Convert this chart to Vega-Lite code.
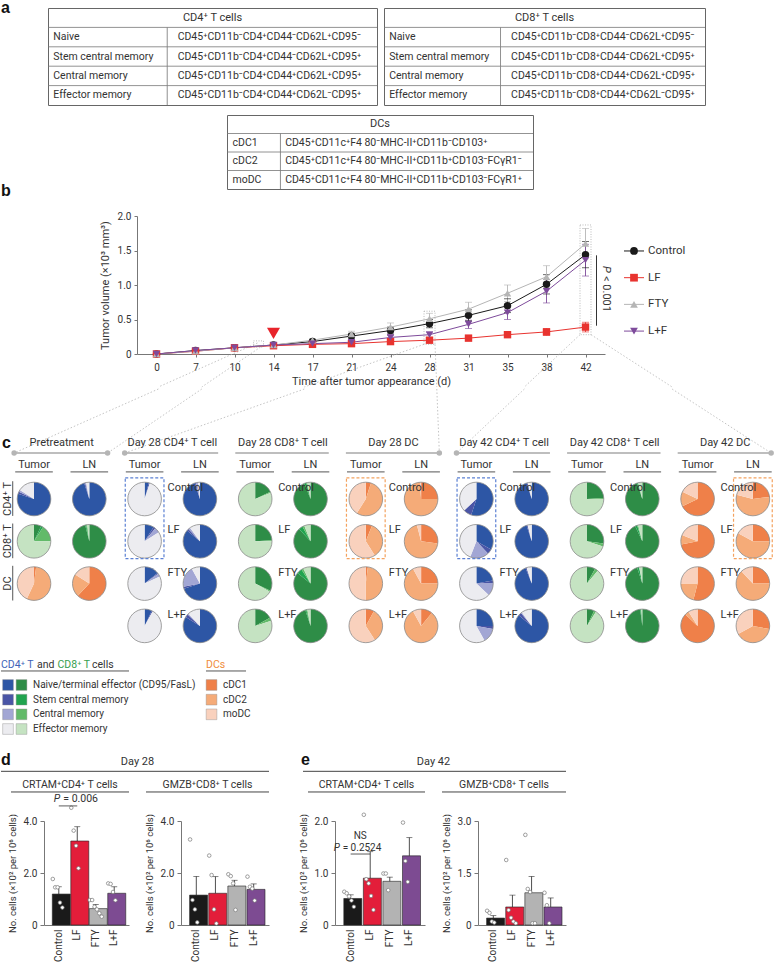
{
"$schema": "https://vega.github.io/schema/vega-lite/v6.json",
"padding": 0,
"background": "white",
"spacing": 0,
"bounds": "full",
"config": {
 "view": {"stroke": null},
 "font": "Roboto",
 "axis": {"labelFont": "Roboto", "titleFont": "Roboto", "labelColor": "#333333", "titleColor": "#333333", "domainColor": "#777777", "tickColor": "#777777", "titleFontWeight": "normal", "grid": false, "labelFontSize": 10, "titleFontSize": 10.5},
 "legend": {"labelFont": "Roboto"},
 "text": {"font": "Roboto", "color": "#333333", "fontSize": 10.5}
},
"resolve": {"scale": {"color": "independent", "shape": "independent"}, "legend": {"color": "independent", "shape": "independent"}},
"datasets": {
 "tab_cd4": [
  {"row": "Naive", "mk": "CD45⁺CD11b⁻CD4⁺CD44⁻CD62L⁺CD95⁻"},
  {"row": "Stem central memory", "mk": "CD45⁺CD11b⁻CD4⁺CD44⁻CD62L⁺CD95⁺"},
  {"row": "Central memory", "mk": "CD45⁺CD11b⁻CD4⁺CD44⁺CD62L⁺CD95⁺"},
  {"row": "Effector memory", "mk": "CD45⁺CD11b⁻CD4⁺CD44⁺CD62L⁻CD95⁺"}
 ],
 "tab_cd8": [
  {"row": "Naive", "mk": "CD45⁺CD11b⁻CD8⁺CD44⁻CD62L⁺CD95⁻"},
  {"row": "Stem central memory", "mk": "CD45⁺CD11b⁻CD8⁺CD44⁻CD62L⁺CD95⁺"},
  {"row": "Central memory", "mk": "CD45⁺CD11b⁻CD8⁺CD44⁺CD62L⁺CD95⁺"},
  {"row": "Effector memory", "mk": "CD45⁺CD11b⁻CD8⁺CD44⁺CD62L⁻CD95⁺"}
 ],
 "tab_dc": [
  {"row": "cDC1", "mk": "CD45⁺CD11c⁺F4 80⁻MHC-II⁺CD11b⁻CD103⁺"},
  {"row": "cDC2", "mk": "CD45⁺CD11c⁺F4 80⁻MHC-II⁺CD11b⁺CD103⁻FCγR1⁻"},
  {"row": "moDC", "mk": "CD45⁺CD11c⁺F4 80⁻MHC-II⁺CD11b⁺CD103⁻FCγR1⁺"}
 ],
 "growth": [
  {"group":"Control","day":0,"mean":0,"lo":0,"hi":0},
  {"group":"Control","day":7,"mean":0.05,"lo":0.04,"hi":0.06},
  {"group":"Control","day":10,"mean":0.09,"lo":0.08,"hi":0.10},
  {"group":"Control","day":14,"mean":0.13,"lo":0.12,"hi":0.14},
  {"group":"Control","day":17,"mean":0.18,"lo":0.16,"hi":0.20},
  {"group":"Control","day":21,"mean":0.26,"lo":0.22,"hi":0.30},
  {"group":"Control","day":24,"mean":0.34,"lo":0.29,"hi":0.39},
  {"group":"Control","day":28,"mean":0.44,"lo":0.38,"hi":0.50},
  {"group":"Control","day":31,"mean":0.56,"lo":0.48,"hi":0.64},
  {"group":"Control","day":35,"mean":0.70,"lo":0.60,"hi":0.80},
  {"group":"Control","day":38,"mean":1.01,"lo":0.87,"hi":1.15},
  {"group":"Control","day":42,"mean":1.44,"lo":1.25,"hi":1.63},
  {"group":"LF","day":0,"mean":0,"lo":0,"hi":0},
  {"group":"LF","day":7,"mean":0.04,"lo":0.03,"hi":0.05},
  {"group":"LF","day":10,"mean":0.09,"lo":0.08,"hi":0.10},
  {"group":"LF","day":14,"mean":0.12,"lo":0.11,"hi":0.13},
  {"group":"LF","day":17,"mean":0.14,"lo":0.13,"hi":0.15},
  {"group":"LF","day":21,"mean":0.15,"lo":0.13,"hi":0.17},
  {"group":"LF","day":24,"mean":0.18,"lo":0.16,"hi":0.20},
  {"group":"LF","day":28,"mean":0.20,"lo":0.18,"hi":0.22},
  {"group":"LF","day":31,"mean":0.23,"lo":0.21,"hi":0.25},
  {"group":"LF","day":35,"mean":0.28,"lo":0.25,"hi":0.31},
  {"group":"LF","day":38,"mean":0.32,"lo":0.27,"hi":0.37},
  {"group":"LF","day":42,"mean":0.39,"lo":0.32,"hi":0.46},
  {"group":"FTY","day":0,"mean":0,"lo":0,"hi":0},
  {"group":"FTY","day":7,"mean":0.04,"lo":0.03,"hi":0.05},
  {"group":"FTY","day":10,"mean":0.09,"lo":0.08,"hi":0.10},
  {"group":"FTY","day":14,"mean":0.13,"lo":0.12,"hi":0.14},
  {"group":"FTY","day":17,"mean":0.20,"lo":0.18,"hi":0.22},
  {"group":"FTY","day":21,"mean":0.29,"lo":0.25,"hi":0.33},
  {"group":"FTY","day":24,"mean":0.39,"lo":0.33,"hi":0.45},
  {"group":"FTY","day":28,"mean":0.51,"lo":0.43,"hi":0.59},
  {"group":"FTY","day":31,"mean":0.65,"lo":0.55,"hi":0.75},
  {"group":"FTY","day":35,"mean":0.88,"lo":0.76,"hi":1.00},
  {"group":"FTY","day":38,"mean":1.12,"lo":0.96,"hi":1.28},
  {"group":"FTY","day":42,"mean":1.60,"lo":1.38,"hi":1.82},
  {"group":"L+F","day":0,"mean":0,"lo":0,"hi":0},
  {"group":"L+F","day":7,"mean":0.05,"lo":0.04,"hi":0.06},
  {"group":"L+F","day":10,"mean":0.09,"lo":0.08,"hi":0.10},
  {"group":"L+F","day":14,"mean":0.13,"lo":0.12,"hi":0.14},
  {"group":"L+F","day":17,"mean":0.15,"lo":0.14,"hi":0.16},
  {"group":"L+F","day":21,"mean":0.17,"lo":0.15,"hi":0.19},
  {"group":"L+F","day":24,"mean":0.24,"lo":0.21,"hi":0.27},
  {"group":"L+F","day":28,"mean":0.28,"lo":0.24,"hi":0.32},
  {"group":"L+F","day":31,"mean":0.43,"lo":0.37,"hi":0.49},
  {"group":"L+F","day":35,"mean":0.60,"lo":0.50,"hi":0.70},
  {"group":"L+F","day":38,"mean":0.91,"lo":0.74,"hi":1.08},
  {"group":"L+F","day":42,"mean":1.36,"lo":1.13,"hi":1.59}
 ],
 "groups": [{"group":"Control"},{"group":"LF"},{"group":"FTY"},{"group":"L+F"}],
 "pie": [
  {"g":"Pre","t":"Tumor","r":"CD4","naive":80,"scm":2,"cm":2,"em":16},
  {"g":"Pre","t":"LN","r":"CD4","naive":95,"scm":1,"cm":1,"em":3},
  {"g":"Pre","t":"Tumor","r":"CD8","naive":7,"scm":2,"cm":16,"em":75},
  {"g":"Pre","t":"LN","r":"CD8","naive":96,"scm":1,"cm":1,"em":2},
  {"g":"Pre","t":"Tumor","r":"DC","cdc1":2,"cdc2":55,"modc":43},
  {"g":"Pre","t":"LN","r":"DC","cdc1":62,"cdc2":22,"modc":16},
  {"g":"D28CD4","t":"Tumor","r":"Control","naive":4,"scm":1,"cm":0,"em":95},
  {"g":"D28CD4","t":"Tumor","r":"LF","naive":9,"scm":2,"cm":5,"em":84},
  {"g":"D28CD4","t":"Tumor","r":"FTY","naive":14,"scm":1,"cm":3,"em":82},
  {"g":"D28CD4","t":"Tumor","r":"L+F","naive":7,"scm":1,"cm":0,"em":92},
  {"g":"D28CD4","t":"LN","r":"Control","naive":95,"scm":1,"cm":2,"em":2},
  {"g":"D28CD4","t":"LN","r":"LF","naive":86,"scm":2,"cm":2,"em":10},
  {"g":"D28CD4","t":"LN","r":"FTY","naive":70,"scm":2,"cm":20,"em":8},
  {"g":"D28CD4","t":"LN","r":"L+F","naive":84,"scm":3,"cm":1,"em":12},
  {"g":"D28CD8","t":"Tumor","r":"Control","naive":18,"scm":0,"cm":1,"em":81},
  {"g":"D28CD8","t":"Tumor","r":"LF","naive":24,"scm":0,"cm":1,"em":75},
  {"g":"D28CD8","t":"Tumor","r":"FTY","naive":32,"scm":0,"cm":1,"em":67},
  {"g":"D28CD8","t":"Tumor","r":"L+F","naive":17,"scm":0,"cm":3,"em":80},
  {"g":"D28CD8","t":"LN","r":"Control","naive":94,"scm":2,"cm":1,"em":3},
  {"g":"D28CD8","t":"LN","r":"LF","naive":88,"scm":4,"cm":2,"em":6},
  {"g":"D28CD8","t":"LN","r":"FTY","naive":86,"scm":5,"cm":2,"em":7},
  {"g":"D28CD8","t":"LN","r":"L+F","naive":95,"scm":1,"cm":1,"em":3},
  {"g":"D28DC","t":"Tumor","r":"Control","cdc1":5,"cdc2":54,"modc":41},
  {"g":"D28DC","t":"Tumor","r":"LF","cdc1":6,"cdc2":35,"modc":59},
  {"g":"D28DC","t":"Tumor","r":"FTY","cdc1":2,"cdc2":48,"modc":50},
  {"g":"D28DC","t":"Tumor","r":"L+F","cdc1":8,"cdc2":33,"modc":59},
  {"g":"D28DC","t":"LN","r":"Control","cdc1":25,"cdc2":74,"modc":1},
  {"g":"D28DC","t":"LN","r":"LF","cdc1":27,"cdc2":69,"modc":4},
  {"g":"D28DC","t":"LN","r":"FTY","cdc1":25,"cdc2":67,"modc":8},
  {"g":"D28DC","t":"LN","r":"L+F","cdc1":11,"cdc2":81,"modc":8},
  {"g":"D42CD4","t":"Tumor","r":"Control","naive":55,"scm":8,"cm":0,"em":37},
  {"g":"D42CD4","t":"Tumor","r":"LF","naive":33,"scm":5,"cm":18,"em":44},
  {"g":"D42CD4","t":"Tumor","r":"FTY","naive":22,"scm":3,"cm":12,"em":63},
  {"g":"D42CD4","t":"Tumor","r":"L+F","naive":25,"scm":3,"cm":14,"em":58},
  {"g":"D42CD4","t":"LN","r":"Control","naive":95,"scm":1,"cm":0,"em":4},
  {"g":"D42CD4","t":"LN","r":"LF","naive":95,"scm":1,"cm":0,"em":4},
  {"g":"D42CD4","t":"LN","r":"FTY","naive":94,"scm":1,"cm":0,"em":5},
  {"g":"D42CD4","t":"LN","r":"L+F","naive":86,"scm":3,"cm":1,"em":10},
  {"g":"D42CD8","t":"Tumor","r":"Control","naive":24,"scm":0,"cm":1,"em":75},
  {"g":"D42CD8","t":"Tumor","r":"LF","naive":27,"scm":0,"cm":3,"em":70},
  {"g":"D42CD8","t":"Tumor","r":"FTY","naive":8,"scm":0,"cm":3,"em":89},
  {"g":"D42CD8","t":"Tumor","r":"L+F","naive":7,"scm":0,"cm":2,"em":91},
  {"g":"D42CD8","t":"LN","r":"Control","naive":95,"scm":1,"cm":0,"em":4},
  {"g":"D42CD8","t":"LN","r":"LF","naive":93,"scm":2,"cm":1,"em":4},
  {"g":"D42CD8","t":"LN","r":"FTY","naive":95,"scm":2,"cm":0,"em":3},
  {"g":"D42CD8","t":"LN","r":"L+F","naive":98,"scm":1,"cm":0,"em":1},
  {"g":"D42DC","t":"Tumor","r":"Control","cdc1":68,"cdc2":14,"modc":18},
  {"g":"D42DC","t":"Tumor","r":"LF","cdc1":72,"cdc2":9,"modc":19},
  {"g":"D42DC","t":"Tumor","r":"FTY","cdc1":54,"cdc2":21,"modc":25},
  {"g":"D42DC","t":"Tumor","r":"L+F","cdc1":87,"cdc2":4,"modc":9},
  {"g":"D42DC","t":"LN","r":"Control","cdc1":23,"cdc2":56,"modc":21},
  {"g":"D42DC","t":"LN","r":"LF","cdc1":25,"cdc2":58,"modc":17},
  {"g":"D42DC","t":"LN","r":"FTY","cdc1":25,"cdc2":63,"modc":12},
  {"g":"D42DC","t":"LN","r":"L+F","cdc1":28,"cdc2":39,"modc":33}
 ],
 "grp": [
  {"g":"Pre","lab":"Pretreatment"},
  {"g":"D28CD4","lab":"Day 28 CD4⁺ T cell"},
  {"g":"D28CD8","lab":"Day 28 CD8⁺ T cell"},
  {"g":"D28DC","lab":"Day 28 DC"},
  {"g":"D42CD4","lab":"Day 42 CD4⁺ T cell"},
  {"g":"D42CD8","lab":"Day 42 CD8⁺ T cell"},
  {"g":"D42DC","lab":"Day 42 DC"}
 ],
 "ends": [
  {"g":"Pre","side":"L"},{"g":"Pre","side":"R"},
  {"g":"D28CD4","side":"L"},{"g":"D28DC","side":"R"},
  {"g":"D42CD4","side":"L"},{"g":"D42DC","side":"R"}
 ],
 "preRows": [
  {"r":"CD4","lab":"CD4⁺ T"},{"r":"CD8","lab":"CD8⁺ T"},{"r":"DC","lab":"DC"}
 ],
 "boxes": [
  {"g":"D28CD4","t":"Tumor","lin":"CD4"},
  {"g":"D28DC","t":"Tumor","lin":"DC"},
  {"g":"D42CD4","t":"Tumor","lin":"CD4"},
  {"g":"D42DC","t":"LN","lin":"DC"}
 ],
 "legT": [
  {"key":"naive","lab":"Naive/terminal effector (CD95/FasL)"},
  {"key":"scm","lab":"Stem central memory"},
  {"key":"cm","lab":"Central memory"},
  {"key":"em","lab":"Effector memory"}
 ],
 "legD": [
  {"key":"cdc1","lab":"cDC1"},
  {"key":"cdc2","lab":"cDC2"},
  {"key":"modc","lab":"moDC"}
 ],
 "bars": [
  {"panel":"d1","group":"Control","mean":1.19,"hi":1.47},
  {"panel":"d1","group":"LF","mean":3.23,"hi":3.78},
  {"panel":"d1","group":"FTY","mean":0.63,"hi":0.79},
  {"panel":"d1","group":"L+F","mean":1.22,"hi":1.47},
  {"panel":"d2","group":"Control","mean":1.15,"hi":1.87},
  {"panel":"d2","group":"LF","mean":1.22,"hi":1.86},
  {"panel":"d2","group":"FTY","mean":1.50,"hi":1.72},
  {"panel":"d2","group":"L+F","mean":1.37,"hi":1.58},
  {"panel":"e1","group":"Control","mean":0.51,"hi":0.58},
  {"panel":"e1","group":"LF","mean":0.90,"hi":1.41},
  {"panel":"e1","group":"FTY","mean":0.84,"hi":0.92},
  {"panel":"e1","group":"L+F","mean":1.33,"hi":1.68},
  {"panel":"e2","group":"Control","mean":0.20,"hi":0.27},
  {"panel":"e2","group":"LF","mean":0.52,"hi":0.86},
  {"panel":"e2","group":"FTY","mean":0.93,"hi":1.40},
  {"panel":"e2","group":"L+F","mean":0.52,"hi":0.78}
 ],
 "pts": [
  {"panel":"d1","group":"Control","rep":1,"val":1.77},{"panel":"d1","group":"Control","rep":2,"val":1.45},{"panel":"d1","group":"Control","rep":3,"val":1.45},{"panel":"d1","group":"Control","rep":4,"val":0.86},{"panel":"d1","group":"Control","rep":5,"val":0.67},
  {"panel":"d1","group":"LF","rep":1,"val":4.51},{"panel":"d1","group":"LF","rep":2,"val":3.63},{"panel":"d1","group":"LF","rep":3,"val":3.05},{"panel":"d1","group":"LF","rep":4,"val":2.18},
  {"panel":"d1","group":"FTY","rep":1,"val":0.96},{"panel":"d1","group":"FTY","rep":2,"val":0.96},{"panel":"d1","group":"FTY","rep":3,"val":0.7},{"panel":"d1","group":"FTY","rep":4,"val":0.6},{"panel":"d1","group":"FTY","rep":5,"val":0.45},{"panel":"d1","group":"FTY","rep":6,"val":0.32},
  {"panel":"d1","group":"L+F","rep":1,"val":1.6},{"panel":"d1","group":"L+F","rep":2,"val":1.58},{"panel":"d1","group":"L+F","rep":3,"val":1.27},{"panel":"d1","group":"L+F","rep":4,"val":0.95},
  {"panel":"d2","group":"Control","rep":1,"val":3.29},{"panel":"d2","group":"Control","rep":2,"val":0.96},{"panel":"d2","group":"Control","rep":3,"val":0.6},{"panel":"d2","group":"Control","rep":4,"val":0.1},
  {"panel":"d2","group":"LF","rep":1,"val":2.67},{"panel":"d2","group":"LF","rep":2,"val":1.92},{"panel":"d2","group":"LF","rep":3,"val":0.6},{"panel":"d2","group":"LF","rep":4,"val":0.06},
  {"panel":"d2","group":"FTY","rep":1,"val":1.95},{"panel":"d2","group":"FTY","rep":2,"val":1.88},{"panel":"d2","group":"FTY","rep":3,"val":1.6},{"panel":"d2","group":"FTY","rep":4,"val":0.58},
  {"panel":"d2","group":"L+F","rep":1,"val":1.86},{"panel":"d2","group":"L+F","rep":2,"val":1.47},{"panel":"d2","group":"L+F","rep":3,"val":1.4},{"panel":"d2","group":"L+F","rep":4,"val":0.94},
  {"panel":"e1","group":"Control","rep":1,"val":0.64},{"panel":"e1","group":"Control","rep":2,"val":0.61},{"panel":"e1","group":"Control","rep":3,"val":0.55},{"panel":"e1","group":"Control","rep":4,"val":0.47},{"panel":"e1","group":"Control","rep":5,"val":0.35},
  {"panel":"e1","group":"LF","rep":1,"val":2.12},{"panel":"e1","group":"LF","rep":2,"val":0.88},{"panel":"e1","group":"LF","rep":3,"val":0.8},{"panel":"e1","group":"LF","rep":4,"val":0.56},{"panel":"e1","group":"LF","rep":5,"val":0.29},
  {"panel":"e1","group":"FTY","rep":1,"val":0.99},{"panel":"e1","group":"FTY","rep":2,"val":0.99},{"panel":"e1","group":"FTY","rep":3,"val":0.67},
  {"panel":"e1","group":"L+F","rep":1,"val":1.97},{"panel":"e1","group":"L+F","rep":2,"val":1.23},{"panel":"e1","group":"L+F","rep":3,"val":0.83},
  {"panel":"e2","group":"Control","rep":1,"val":0.41},{"panel":"e2","group":"Control","rep":2,"val":0.35},{"panel":"e2","group":"Control","rep":3,"val":0.1},{"panel":"e2","group":"Control","rep":4,"val":0.07},
  {"panel":"e2","group":"LF","rep":1,"val":1.875},{"panel":"e2","group":"LF","rep":2,"val":0.43},{"panel":"e2","group":"LF","rep":3,"val":0.21},{"panel":"e2","group":"LF","rep":4,"val":0.1},{"panel":"e2","group":"LF","rep":5,"val":0.05},
  {"panel":"e2","group":"FTY","rep":1,"val":2.6},{"panel":"e2","group":"FTY","rep":2,"val":1.04},{"panel":"e2","group":"FTY","rep":3,"val":0.95},{"panel":"e2","group":"FTY","rep":4,"val":0.05},{"panel":"e2","group":"FTY","rep":5,"val":0.05},
  {"panel":"e2","group":"L+F","rep":1,"val":0.93},{"panel":"e2","group":"L+F","rep":2,"val":0.57},{"panel":"e2","group":"L+F","rep":3,"val":0.05}
 ]
},
"vconcat": [
 {"hconcat": [
   {"width": 47, "height": 97, "data": {"values": [{}]},
    "mark": {"type": "text", "text": "a", "align": "left", "baseline": "middle", "fontSize": 16, "fontWeight": "bold", "font": "Liberation Sans", "color": "#111111"},
    "encoding": {"x": {"datum": 0, "type": "quantitative", "scale": {"domain": [0, 1]}, "axis": null}, "y": {"datum": 1, "type": "quantitative", "scale": {"domain": [0, 1]}, "axis": null}}},
   {"width": 329, "height": 97, "view": {"stroke": "#666666", "strokeWidth": 1},
    "data": {"name": "tab_cd4"},
    "layer": [
     {"mark": {"type": "rule", "color": "#777777", "strokeWidth": 0.8},
      "encoding": {"y": {"field": "row", "type": "nominal", "bandPosition": 0, "scale": {"domain": ["hdr", "Naive", "Stem central memory", "Central memory", "Effector memory"], "paddingInner": 0, "paddingOuter": 0}, "axis": null}}},
     {"mark": {"type": "bar", "color": "#777777"},
      "encoding": {"y": {"field": "row", "type": "nominal", "axis": null}, "x": {"datum": 0.361, "type": "quantitative", "scale": {"domain": [0, 1], "nice": false, "zero": false}, "axis": null}, "x2": {"datum": 0.3635}}},
     {"mark": {"type": "text", "align": "left", "fontSize": 10.5},
      "encoding": {"y": {"field": "row", "type": "nominal", "axis": null}, "x": {"datum": 0.016, "type": "quantitative", "axis": null}, "text": {"field": "row"}}},
     {"mark": {"type": "text", "align": "left", "fontSize": 10.5},
      "encoding": {"y": {"field": "row", "type": "nominal", "axis": null}, "x": {"datum": 0.394, "type": "quantitative", "axis": null}, "text": {"field": "mk"}}},
     {"data": {"values": [{"row": "hdr"}]}, "mark": {"type": "text", "text": "CD4⁺ T cells", "fontSize": 11},
      "encoding": {"y": {"field": "row", "type": "nominal", "axis": null}}}
    ]},
   {"width": 7, "height": 97, "data": {"values": [{}]}, "mark": {"type": "point", "opacity": 0}},
   {"width": 321, "height": 97, "view": {"stroke": "#666666", "strokeWidth": 1},
    "data": {"name": "tab_cd8"},
    "layer": [
     {"mark": {"type": "rule", "color": "#777777", "strokeWidth": 0.8},
      "encoding": {"y": {"field": "row", "type": "nominal", "bandPosition": 0, "scale": {"domain": ["hdr", "Naive", "Stem central memory", "Central memory", "Effector memory"], "paddingInner": 0, "paddingOuter": 0}, "axis": null}}},
     {"mark": {"type": "bar", "color": "#777777"},
      "encoding": {"y": {"field": "row", "type": "nominal", "axis": null}, "x": {"datum": 0.362, "type": "quantitative", "scale": {"domain": [0, 1], "nice": false, "zero": false}, "axis": null}, "x2": {"datum": 0.3645}}},
     {"mark": {"type": "text", "align": "left", "fontSize": 10.5},
      "encoding": {"y": {"field": "row", "type": "nominal", "axis": null}, "x": {"datum": 0.016, "type": "quantitative", "axis": null}, "text": {"field": "row"}}},
     {"mark": {"type": "text", "align": "left", "fontSize": 10.5},
      "encoding": {"y": {"field": "row", "type": "nominal", "axis": null}, "x": {"datum": 0.396, "type": "quantitative", "axis": null}, "text": {"field": "mk"}}},
     {"data": {"values": [{"row": "hdr"}]}, "mark": {"type": "text", "text": "CD8⁺ T cells", "fontSize": 11},
      "encoding": {"y": {"field": "row", "type": "nominal", "axis": null}}}
    ]}
  ], "spacing": 0, "bounds": "flush"},
 {"width": 10, "height": 7.5, "data": {"values": [{}]}, "mark": {"type": "point", "opacity": 0}},
 {"hconcat": [
   {"width": 226, "height": 74, "data": {"values": [{}]},
    "mark": {"type": "text", "text": "b", "align": "left", "baseline": "middle", "dy": 2, "fontSize": 16, "fontWeight": "bold", "font": "Liberation Sans", "color": "#111111"},
    "encoding": {"x": {"datum": 0, "type": "quantitative", "scale": {"domain": [0, 1]}, "axis": null}, "y": {"datum": 0, "type": "quantitative", "scale": {"domain": [0, 1]}, "axis": null}}},
   {"width": 306, "height": 74, "view": {"stroke": "#666666", "strokeWidth": 1},
    "data": {"name": "tab_dc"},
    "layer": [
     {"mark": {"type": "rule", "color": "#777777", "strokeWidth": 0.8},
      "encoding": {"y": {"field": "row", "type": "nominal", "bandPosition": 0, "scale": {"domain": ["hdr", "cDC1", "cDC2", "moDC"], "paddingInner": 0, "paddingOuter": 0}, "axis": null}}},
     {"mark": {"type": "bar", "color": "#777777"},
      "encoding": {"y": {"field": "row", "type": "nominal", "axis": null}, "x": {"datum": 0.173, "type": "quantitative", "scale": {"domain": [0, 1], "nice": false, "zero": false}, "axis": null}, "x2": {"datum": 0.1757}}},
     {"mark": {"type": "text", "align": "left", "fontSize": 10.5},
      "encoding": {"y": {"field": "row", "type": "nominal", "axis": null}, "x": {"datum": 0.018, "type": "quantitative", "axis": null}, "text": {"field": "row"}}},
     {"mark": {"type": "text", "align": "left", "fontSize": 10.5},
      "encoding": {"y": {"field": "row", "type": "nominal", "axis": null}, "x": {"datum": 0.19, "type": "quantitative", "axis": null}, "text": {"field": "mk"}}},
     {"data": {"values": [{"row": "hdr"}]}, "mark": {"type": "text", "text": "DCs", "fontSize": 11},
      "encoding": {"y": {"field": "row", "type": "nominal", "axis": null}}}
    ]}
  ], "spacing": 0, "bounds": "flush"},
 {"width": 10, "height": 12, "data": {"values": [{}]}, "mark": {"type": "point", "opacity": 0}},
 {"hconcat": [
   {"width": 136, "height": 138, "data": {"values": [{}]}, "mark": {"type": "point", "opacity": 0}},
   {"width": 468, "height": 138,
    "data": {"name": "growth"},
    "encoding": {
     "x": {"field": "day", "type": "ordinal", "scale": {"type": "point", "padding": 0.5}, "axis": {"title": "Time after tumor appearance (d)", "labelAngle": 0, "tickSize": 3, "labelPadding": 5, "titlePadding": 3.5, "labelFontSize": 10, "titleFontSize": 11}},
     "color": {"field": "group", "type": "nominal", "scale": {"domain": ["Control", "LF", "FTY", "L+F"], "range": ["#1a1a1a", "#e8332f", "#b5b5b5", "#7e4b9b"]}, "legend": null}
    },
    "layer": [
     {"data": {"values": [{"day": 28, "top": 0.62, "bot": 0.14}, {"day": 42, "top": 1.87, "bot": 0.28}]},
      "mark": {"type": "bar", "width": 11, "filled": false, "strokeDash": [1, 1.5], "strokeWidth": 0.8},
      "encoding": {"y": {"field": "top", "type": "quantitative", "scale": {"domain": [0, 2], "nice": false},
        "axis": {"title": "Tumor volume (×10³ mm³)", "values": [0, 0.5, 1, 1.5, 2], "labelExpr": "datum.value == 0 ? '0' : format(datum.value, '.1f')", "tickSize": 3, "labelPadding": 3, "titlePadding": 6.5, "labelFontSize": 10, "titleFontSize": 11}},
       "y2": {"field": "bot"}, "color": {"value": "#aaaaaa"}}},
     {"data": {"values": [{"day": 10, "top": 0.19, "bot": 0.10}]},
      "mark": {"type": "bar", "width": 10, "xOffset": 24, "filled": false, "strokeDash": [1, 1.5], "strokeWidth": 0.8},
      "encoding": {"y": {"field": "top", "type": "quantitative",
        "axis": {"title": "Tumor volume (×10³ mm³)", "values": [0, 0.5, 1, 1.5, 2], "labelExpr": "datum.value == 0 ? '0' : format(datum.value, '.1f')", "tickSize": 3, "labelPadding": 3, "titlePadding": 6.5, "labelFontSize": 10, "titleFontSize": 11}},
       "y2": {"field": "bot"}, "color": {"value": "#aaaaaa"}}},
     {"data": {"values": [{"day": 10, "y0": 0.16}]},
      "mark": {"type": "rule", "xOffset": 23, "x2Offset": -76.1, "strokeDash": [1.5, 2], "strokeWidth": 0.8},
      "encoding": {"x2": {"field": "day"}, "y": {"field": "y0", "type": "quantitative", "axis": {"title": "Tumor volume (×10³ mm³)", "values": [0, 0.5, 1, 1.5, 2], "labelExpr": "datum.value == 0 ? '0' : format(datum.value, '.1f')", "tickSize": 3, "labelPadding": 3, "titlePadding": 6.5, "labelFontSize": 10, "titleFontSize": 11}}, "y2": {"datum": -0.478}, "color": {"value": "#b5b5b5"}}},
     {"data": {"values": [{"day": 10, "y0": 0.13}]},
      "mark": {"type": "rule", "xOffset": 29, "x2Offset": -32.7, "strokeDash": [1.5, 2], "strokeWidth": 0.8},
      "encoding": {"x2": {"field": "day"}, "y": {"field": "y0", "type": "quantitative", "axis": {"title": "Tumor volume (×10³ mm³)", "values": [0, 0.5, 1, 1.5, 2], "labelExpr": "datum.value == 0 ? '0' : format(datum.value, '.1f')", "tickSize": 3, "labelPadding": 3, "titlePadding": 6.5, "labelFontSize": 10, "titleFontSize": 11}}, "y2": {"datum": -0.478}, "color": {"value": "#b5b5b5"}}},
     {"data": {"values": [{"day": 28, "y0": 0.14}]},
      "mark": {"type": "rule", "xOffset": -5.5, "x2Offset": -125.2, "strokeDash": [1.5, 2], "strokeWidth": 0.8},
      "encoding": {"x2": {"field": "day"}, "y": {"field": "y0", "type": "quantitative", "axis": {"title": "Tumor volume (×10³ mm³)", "values": [0, 0.5, 1, 1.5, 2], "labelExpr": "datum.value == 0 ? '0' : format(datum.value, '.1f')", "tickSize": 3, "labelPadding": 3, "titlePadding": 6.5, "labelFontSize": 10, "titleFontSize": 11}}, "y2": {"datum": -0.478}, "color": {"value": "#b5b5b5"}}},
     {"data": {"values": [{"day": 28, "y0": 0.14}]},
      "mark": {"type": "rule", "xOffset": 5.5, "x2Offset": 7.3, "strokeDash": [1.5, 2], "strokeWidth": 0.8},
      "encoding": {"x2": {"field": "day"}, "y": {"field": "y0", "type": "quantitative", "axis": {"title": "Tumor volume (×10³ mm³)", "values": [0, 0.5, 1, 1.5, 2], "labelExpr": "datum.value == 0 ? '0' : format(datum.value, '.1f')", "tickSize": 3, "labelPadding": 3, "titlePadding": 6.5, "labelFontSize": 10, "titleFontSize": 11}}, "y2": {"datum": -0.478}, "color": {"value": "#b5b5b5"}}},
     {"data": {"values": [{"day": 42, "y0": 0.28}]},
      "mark": {"type": "rule", "xOffset": -5.5, "x2Offset": -61.1, "strokeDash": [1.5, 2], "strokeWidth": 0.8},
      "encoding": {"x2": {"field": "day"}, "y": {"field": "y0", "type": "quantitative", "axis": {"title": "Tumor volume (×10³ mm³)", "values": [0, 0.5, 1, 1.5, 2], "labelExpr": "datum.value == 0 ? '0' : format(datum.value, '.1f')", "tickSize": 3, "labelPadding": 3, "titlePadding": 6.5, "labelFontSize": 10, "titleFontSize": 11}}, "y2": {"datum": -0.478}, "color": {"value": "#b5b5b5"}}},
     {"data": {"values": [{"day": 42, "y0": 0.28}]},
      "mark": {"type": "rule", "xOffset": 5.5, "x2Offset": 86.6, "strokeDash": [1.5, 2], "strokeWidth": 0.8},
      "encoding": {"x2": {"field": "day"}, "y": {"field": "y0", "type": "quantitative", "axis": {"title": "Tumor volume (×10³ mm³)", "values": [0, 0.5, 1, 1.5, 2], "labelExpr": "datum.value == 0 ? '0' : format(datum.value, '.1f')", "tickSize": 3, "labelPadding": 3, "titlePadding": 6.5, "labelFontSize": 10, "titleFontSize": 11}}, "y2": {"datum": -0.478}, "color": {"value": "#b5b5b5"}}},
     {"mark": {"type": "rule", "strokeWidth": 0.9},
      "encoding": {"y": {"field": "lo", "type": "quantitative", "axis": {"title": "Tumor volume (×10³ mm³)", "values": [0, 0.5, 1, 1.5, 2], "labelExpr": "datum.value == 0 ? '0' : format(datum.value, '.1f')", "tickSize": 3, "labelPadding": 3, "titlePadding": 6.5, "labelFontSize": 10, "titleFontSize": 11}}, "y2": {"field": "hi"}}},
     {"mark": {"type": "tick", "size": 7, "thickness": 0.9},
      "encoding": {"y": {"field": "hi", "type": "quantitative", "axis": {"title": "Tumor volume (×10³ mm³)", "values": [0, 0.5, 1, 1.5, 2], "labelExpr": "datum.value == 0 ? '0' : format(datum.value, '.1f')", "tickSize": 3, "labelPadding": 3, "titlePadding": 6.5, "labelFontSize": 10, "titleFontSize": 11}}}},
     {"mark": {"type": "tick", "size": 7, "thickness": 0.9},
      "encoding": {"y": {"field": "lo", "type": "quantitative", "axis": {"title": "Tumor volume (×10³ mm³)", "values": [0, 0.5, 1, 1.5, 2], "labelExpr": "datum.value == 0 ? '0' : format(datum.value, '.1f')", "tickSize": 3, "labelPadding": 3, "titlePadding": 6.5, "labelFontSize": 10, "titleFontSize": 11}}}},
     {"mark": {"type": "line", "strokeWidth": 1},
      "encoding": {"y": {"field": "mean", "type": "quantitative", "axis": {"title": "Tumor volume (×10³ mm³)", "values": [0, 0.5, 1, 1.5, 2], "labelExpr": "datum.value == 0 ? '0' : format(datum.value, '.1f')", "tickSize": 3, "labelPadding": 3, "titlePadding": 6.5, "labelFontSize": 10, "titleFontSize": 11}}}},
     {"mark": {"type": "point", "filled": true, "size": 55, "opacity": 1},
      "encoding": {"y": {"field": "mean", "type": "quantitative", "axis": {"title": "Tumor volume (×10³ mm³)", "values": [0, 0.5, 1, 1.5, 2], "labelExpr": "datum.value == 0 ? '0' : format(datum.value, '.1f')", "tickSize": 3, "labelPadding": 3, "titlePadding": 6.5, "labelFontSize": 10, "titleFontSize": 11}},
       "shape": {"field": "group", "type": "nominal", "scale": {"domain": ["Control", "LF", "FTY", "L+F"], "range": ["circle", "square", "triangle-up", "triangle-down"]}, "legend": null}}},
     {"data": {"name": "groups"},
      "transform": [{"calculate": "1.493 - 0.387 * indexof(['Control','LF','FTY','L+F'], datum.group)", "as": "ly"}],
      "mark": {"type": "rule", "xOffset": 38.5, "x2Offset": 58.5, "strokeWidth": 1},
      "encoding": {"x": {"datum": 42}, "x2": {"datum": 42}, "y": {"field": "ly", "type": "quantitative", "axis": {"title": "Tumor volume (×10³ mm³)", "values": [0, 0.5, 1, 1.5, 2], "labelExpr": "datum.value == 0 ? '0' : format(datum.value, '.1f')", "tickSize": 3, "labelPadding": 3, "titlePadding": 6.5, "labelFontSize": 10, "titleFontSize": 11}}}},
     {"data": {"name": "groups"},
      "transform": [{"calculate": "1.493 - 0.387 * indexof(['Control','LF','FTY','L+F'], datum.group)", "as": "ly"}],
      "mark": {"type": "point", "xOffset": 48.5, "filled": true, "size": 60, "opacity": 1},
      "encoding": {"x": {"datum": 42}, "y": {"field": "ly", "type": "quantitative", "axis": {"title": "Tumor volume (×10³ mm³)", "values": [0, 0.5, 1, 1.5, 2], "labelExpr": "datum.value == 0 ? '0' : format(datum.value, '.1f')", "tickSize": 3, "labelPadding": 3, "titlePadding": 6.5, "labelFontSize": 10, "titleFontSize": 11}},
       "shape": {"field": "group", "type": "nominal", "legend": null}}},
     {"data": {"name": "groups"},
      "transform": [{"calculate": "1.493 - 0.387 * indexof(['Control','LF','FTY','L+F'], datum.group)", "as": "ly"}],
      "mark": {"type": "text", "xOffset": 62.5, "align": "left", "fontSize": 11.5},
      "encoding": {"x": {"datum": 42}, "y": {"field": "ly", "type": "quantitative", "axis": {"title": "Tumor volume (×10³ mm³)", "values": [0, 0.5, 1, 1.5, 2], "labelExpr": "datum.value == 0 ? '0' : format(datum.value, '.1f')", "tickSize": 3, "labelPadding": 3, "titlePadding": 6.5, "labelFontSize": 10, "titleFontSize": 11}},
       "text": {"field": "group"}, "color": {"value": "#333333"}}},
     {"data": {"values": [{"day": 14, "v": 0.3}]},
      "mark": {"type": "point", "shape": "triangle-down", "filled": true, "size": 170, "opacity": 1},
      "encoding": {"y": {"field": "v", "type": "quantitative", "axis": {"title": "Tumor volume (×10³ mm³)", "values": [0, 0.5, 1, 1.5, 2], "labelExpr": "datum.value == 0 ? '0' : format(datum.value, '.1f')", "tickSize": 3, "labelPadding": 3, "titlePadding": 6.5, "labelFontSize": 10, "titleFontSize": 11}}, "color": {"value": "#e8242b"}}},
     {"data": {"values": [{"day": 42, "a": 1.43, "b": 0.41}]},
      "mark": {"type": "rule", "xOffset": 11, "strokeWidth": 1},
      "encoding": {"y": {"field": "a", "type": "quantitative", "axis": {"title": "Tumor volume (×10³ mm³)", "values": [0, 0.5, 1, 1.5, 2], "labelExpr": "datum.value == 0 ? '0' : format(datum.value, '.1f')", "tickSize": 3, "labelPadding": 3, "titlePadding": 6.5, "labelFontSize": 10, "titleFontSize": 11}}, "y2": {"field": "b"}, "color": {"value": "#333333"}}},
     {"data": {"values": [{"day": 42, "v": 1.275}]},
      "mark": {"type": "text", "text": "P", "angle": 90, "align": "left", "xOffset": 20, "fontSize": 11, "fontStyle": "italic"},
      "encoding": {"y": {"field": "v", "type": "quantitative", "axis": {"title": "Tumor volume (×10³ mm³)", "values": [0, 0.5, 1, 1.5, 2], "labelExpr": "datum.value == 0 ? '0' : format(datum.value, '.1f')", "tickSize": 3, "labelPadding": 3, "titlePadding": 6.5, "labelFontSize": 10, "titleFontSize": 11}}, "color": {"value": "#333333"}}},
     {"data": {"values": [{"day": 42, "v": 1.13}]},
      "mark": {"type": "text", "text": "< 0.001", "angle": 90, "align": "left", "xOffset": 20, "fontSize": 11},
      "encoding": {"y": {"field": "v", "type": "quantitative", "axis": {"title": "Tumor volume (×10³ mm³)", "values": [0, 0.5, 1, 1.5, 2], "labelExpr": "datum.value == 0 ? '0' : format(datum.value, '.1f')", "tickSize": 3, "labelPadding": 3, "titlePadding": 6.5, "labelFontSize": 10, "titleFontSize": 11}}, "color": {"value": "#333333"}}}
    ]}
  ], "spacing": 0, "bounds": "flush",
  "resolve": {"scale": {"color": "independent", "shape": "independent"}, "legend": {"color": "independent", "shape": "independent"}}},
 {"width": 776, "height": 353,
  "data": {"name": "pie"},
  "transform": [
   {"calculate": "indexof(['Pre','D28CD4','D28CD8','D28DC','D42CD4','D42CD8','D42DC'], datum.g) * 2 + (datum.t == 'LN' ? 1 : 0) + 1", "as": "slot"},
   {"calculate": "datum.g == 'Pre' ? indexof(['CD4','CD8','DC'], datum.r) + 1 : indexof(['Control','LF','FTY','L+F'], datum.r) + 1", "as": "row"},
   {"calculate": "datum.g == 'Pre' ? datum.r : substring(datum.g, 3)", "as": "lin"}
  ],
  "layer": [
   {"transform": [
     {"fold": ["naive", "scm", "cm", "em", "cdc1", "cdc2", "modc"], "as": ["key", "val"]},
     {"filter": "datum.val > 0"},
     {"calculate": "indexof(['naive','scm','cm','em','cdc1','cdc2','modc'], datum.key)", "as": "ord"},
     {"calculate": "datum.lin + '|' + datum.key", "as": "ck"},
     {"stack": "val", "groupby": ["g", "t", "r"], "sort": [{"field": "ord", "order": "ascending"}], "offset": "normalize", "as": ["t0", "t1"]}
    ],
    "mark": {"type": "arc", "outerRadius": 16.8},
    "encoding": {
     "x": {"field": "slot", "type": "quantitative", "scale": {"domain": [0.403, 14.436], "nice": false, "zero": false}, "axis": null},
     "y": {"field": "row", "type": "quantitative", "scale": {"domain": [-1.6005, 6.745], "nice": false, "zero": false, "reverse": true}, "axis": null},
     "theta": {"field": "t0", "type": "quantitative", "scale": {"domain": [0, 1], "range": [0, 6.2832]}},
     "theta2": {"field": "t1"},
     "color": {"field": "ck", "type": "nominal", "legend": null,
      "scale": {"domain": ["CD4|naive", "CD4|scm", "CD4|cm", "CD4|em", "CD8|naive", "CD8|scm", "CD8|cm", "CD8|em", "DC|cdc1", "DC|cdc2", "DC|modc"],
       "range": ["#2d56a5", "#4a55a6", "#a2a6d4", "#ececf0", "#2e8d47", "#21a44f", "#62ba69", "#c5e3c2", "#ef8049", "#f5ab78", "#f9d1bd"]}}
    }},
   {"mark": {"type": "point", "shape": "circle", "filled": false, "stroke": "#8a8a8a", "strokeWidth": 0.8, "size": 1130, "opacity": 1},
    "encoding": {"x": {"field": "slot", "type": "quantitative", "axis": null}, "y": {"field": "row", "type": "quantitative", "axis": null}}},
   {"data": {"values": [{}]}, "mark": {"type": "rule", "color": "#b5b5b5", "strokeDash": [1.5, 2], "strokeWidth": 0.8},
    "encoding": {"x": {"datum": 3.249, "type": "quantitative", "axis": null}, "x2": {"datum": 0.64}, "y": {"datum": -1.6005, "type": "quantitative", "axis": null}, "y2": {"datum": -0.087}}},
   {"data": {"values": [{}]}, "mark": {"type": "rule", "color": "#b5b5b5", "strokeDash": [1.5, 2], "strokeWidth": 0.8},
    "encoding": {"x": {"datum": 4.034, "type": "quantitative", "axis": null}, "x2": {"datum": 2.33}, "y": {"datum": -1.6005, "type": "quantitative", "axis": null}, "y2": {"datum": -0.087}}},
   {"data": {"values": [{}]}, "mark": {"type": "rule", "color": "#b5b5b5", "strokeDash": [1.5, 2], "strokeWidth": 0.8},
    "encoding": {"x": {"datum": 5.888, "type": "quantitative", "axis": null}, "x2": {"datum": 2.64}, "y": {"datum": -1.6005, "type": "quantitative", "axis": null}, "y2": {"datum": -0.087}}},
   {"data": {"values": [{}]}, "mark": {"type": "rule", "color": "#b5b5b5", "strokeDash": [1.5, 2], "strokeWidth": 0.8},
    "encoding": {"x": {"datum": 8.284, "type": "quantitative", "axis": null}, "x2": {"datum": 8.33}, "y": {"datum": -1.6005, "type": "quantitative", "axis": null}, "y2": {"datum": -0.087}}},
   {"data": {"values": [{}]}, "mark": {"type": "rule", "color": "#b5b5b5", "strokeDash": [1.5, 2], "strokeWidth": 0.8},
    "encoding": {"x": {"datum": 9.868, "type": "quantitative", "axis": null}, "x2": {"datum": 8.64}, "y": {"datum": -1.6005, "type": "quantitative", "axis": null}, "y2": {"datum": -0.087}}},
   {"data": {"values": [{}]}, "mark": {"type": "rule", "color": "#b5b5b5", "strokeDash": [1.5, 2], "strokeWidth": 0.8},
    "encoding": {"x": {"datum": 12.539, "type": "quantitative", "axis": null}, "x2": {"datum": 14.33}, "y": {"datum": -1.6005, "type": "quantitative", "axis": null}, "y2": {"datum": -0.087}}},
   {"data": {"name": "boxes"},
    "transform": [
     {"filter": "datum.lin == 'CD4'"},
     {"calculate": "indexof(['Pre','D28CD4','D28CD8','D28DC','D42CD4','D42CD8','D42DC'], datum.g) * 2 + (datum.t == 'LN' ? 1 : 0) + 1", "as": "slot"},
     {"calculate": "datum.slot - 0.35", "as": "xa"},
     {"calculate": "datum.slot + 0.35", "as": "xb"}
    ],
    "mark": {"type": "rect", "filled": false, "color": "#5b80d3", "strokeDash": [3, 2], "strokeWidth": 1.2},
    "encoding": {"x": {"field": "xa", "type": "quantitative", "axis": null}, "x2": {"field": "xb"}, "y": {"datum": 0.5, "type": "quantitative", "axis": null}, "y2": {"datum": 2.41}}},
   {"data": {"name": "boxes"},
    "transform": [
     {"filter": "datum.lin == 'DC'"},
     {"calculate": "indexof(['Pre','D28CD4','D28CD8','D28DC','D42CD4','D42CD8','D42DC'], datum.g) * 2 + (datum.t == 'LN' ? 1 : 0) + 1", "as": "slot"},
     {"calculate": "datum.slot - 0.35", "as": "xa"},
     {"calculate": "datum.slot + 0.35", "as": "xb"}
    ],
    "mark": {"type": "rect", "filled": false, "color": "#f4a25f", "strokeDash": [3, 2], "strokeWidth": 1.2},
    "encoding": {"x": {"field": "xa", "type": "quantitative", "axis": null}, "x2": {"field": "xb"}, "y": {"datum": 0.5, "type": "quantitative", "axis": null}, "y2": {"datum": 2.41}}},
   {"transform": [{"filter": "datum.g != 'Pre' && datum.t == 'Tumor'"}],
    "mark": {"type": "text", "align": "left", "baseline": "middle", "dx": 23, "dy": -11, "fontSize": 11},
    "encoding": {"x": {"field": "slot", "type": "quantitative", "axis": null}, "y": {"field": "row", "type": "quantitative", "axis": null}, "text": {"field": "r"}}},
   {"data": {"name": "grp"},
    "transform": [
     {"calculate": "indexof(['Pre','D28CD4','D28CD8','D28DC','D42CD4','D42CD8','D42DC'], datum.g) * 2 + 1", "as": "s0"},
     {"calculate": "datum.s0 + 0.5", "as": "mid"}
    ],
    "mark": {"type": "text", "fontSize": 11},
    "encoding": {"x": {"field": "mid", "type": "quantitative", "axis": null}, "y": {"datum": -0.32, "type": "quantitative", "axis": null}, "text": {"field": "lab"}}},
   {"data": {"name": "grp"},
    "transform": [
     {"calculate": "indexof(['Pre','D28CD4','D28CD8','D28DC','D42CD4','D42CD8','D42DC'], datum.g) * 2 + 1", "as": "s0"},
     {"calculate": "datum.s0 - 0.36", "as": "xa"},
     {"calculate": "datum.s0 + 1.33", "as": "xb"}
    ],
    "mark": {"type": "rule", "color": "#a8a8a8", "strokeWidth": 1.5},
    "encoding": {"x": {"field": "xa", "type": "quantitative", "axis": null}, "x2": {"field": "xb"}, "y": {"datum": -0.087, "type": "quantitative", "axis": null}}},
   {"data": {"name": "ends"},
    "transform": [
     {"calculate": "indexof(['Pre','D28CD4','D28CD8','D28DC','D42CD4','D42CD8','D42DC'], datum.g) * 2 + 1", "as": "s0"},
     {"calculate": "datum.side == 'L' ? datum.s0 - 0.36 : datum.s0 + 1.33", "as": "xe"}
    ],
    "mark": {"type": "point", "shape": "circle", "filled": true, "color": "#b5b5b5", "size": 30, "opacity": 1},
    "encoding": {"x": {"field": "xe", "type": "quantitative", "axis": null}, "y": {"datum": -0.087, "type": "quantitative", "axis": null}}},
   {"transform": [{"filter": "datum.row == 1"}],
    "mark": {"type": "text", "fontSize": 11},
    "encoding": {"x": {"field": "slot", "type": "quantitative", "axis": null}, "y": {"datum": 0.196, "type": "quantitative", "axis": null}, "text": {"field": "t"}}},
   {"transform": [{"filter": "datum.row == 1"}, {"calculate": "datum.slot - 0.34", "as": "xa"}, {"calculate": "datum.slot + 0.34", "as": "xb"}],
    "mark": {"type": "rule", "color": "#777777", "strokeWidth": 1.3},
    "encoding": {"x": {"field": "xa", "type": "quantitative", "axis": null}, "x2": {"field": "xb"}, "y": {"datum": 0.36, "type": "quantitative", "axis": null}}},
   {"data": {"name": "preRows"},
    "transform": [{"calculate": "indexof(['CD4','CD8','DC'], datum.r) + 1", "as": "row"}],
    "mark": {"type": "text", "angle": 270, "fontSize": 11},
    "encoding": {"x": {"datum": 0.535, "type": "quantitative", "axis": null}, "y": {"field": "row", "type": "quantitative", "axis": null}, "text": {"field": "lab"}}},
   {"data": {"name": "preRows"},
    "transform": [{"calculate": "indexof(['CD4','CD8','DC'], datum.r) + 1", "as": "row"}, {"calculate": "datum.row - 0.42", "as": "ya"}, {"calculate": "datum.row + 0.4", "as": "yb"}],
    "mark": {"type": "rule", "color": "#555555", "strokeWidth": 1},
    "encoding": {"x": {"datum": 0.615, "type": "quantitative", "axis": null}, "y": {"field": "ya", "type": "quantitative", "axis": null}, "y2": {"field": "yb"}}},
   {"data": {"values": [{}]},
    "mark": {"type": "text", "text": "c", "align": "left", "baseline": "middle", "fontSize": 16, "fontWeight": "bold", "font": "Liberation Sans", "color": "#111111"},
    "encoding": {"x": {"datum": 0.42, "type": "quantitative", "axis": null}, "y": {"datum": -0.32, "type": "quantitative", "axis": null}}},
   {"data": {"values": [{}]},
    "mark": {"type": "text", "text": "CD4⁺ T", "align": "left", "fontSize": 10.5, "color": "#3f63b8"},
    "encoding": {"x": {"datum": 0.403, "type": "quantitative", "axis": null}, "y": {"datum": 4.924, "type": "quantitative", "axis": null}}},
   {"data": {"values": [{}]},
    "mark": {"type": "text", "text": "and", "align": "left", "fontSize": 10.5},
    "encoding": {"x": {"datum": 1.054, "type": "quantitative", "axis": null}, "y": {"datum": 4.924, "type": "quantitative", "axis": null}}},
   {"data": {"values": [{}]},
    "mark": {"type": "text", "text": "CD8⁺ T", "align": "left", "fontSize": 10.5, "color": "#36a04f"},
    "encoding": {"x": {"datum": 1.425, "type": "quantitative", "axis": null}, "y": {"datum": 4.924, "type": "quantitative", "axis": null}}},
   {"data": {"values": [{}]},
    "mark": {"type": "text", "text": "cells", "align": "left", "fontSize": 10.5},
    "encoding": {"x": {"datum": 2.049, "type": "quantitative", "axis": null}, "y": {"datum": 4.924, "type": "quantitative", "axis": null}}},
   {"data": {"values": [{}]},
    "mark": {"type": "text", "text": "DCs", "align": "left", "fontSize": 10.5, "color": "#f08c3c"},
    "encoding": {"x": {"datum": 4.11, "type": "quantitative", "axis": null}, "y": {"datum": 4.924, "type": "quantitative", "axis": null}}},
   {"data": {"values": [{}]},
    "mark": {"type": "rule", "color": "#555555", "strokeWidth": 1},
    "encoding": {"x": {"datum": 0.403, "type": "quantitative", "axis": null}, "x2": {"datum": 2.718}, "y": {"datum": 5.066, "type": "quantitative", "axis": null}}},
   {"data": {"values": [{}]},
    "mark": {"type": "rule", "color": "#555555", "strokeWidth": 1},
    "encoding": {"x": {"datum": 4.11, "type": "quantitative", "axis": null}, "x2": {"datum": 4.834}, "y": {"datum": 5.066, "type": "quantitative", "axis": null}}},
   {"data": {"name": "legT"},
    "transform": [{"calculate": "5.397 + 0.347 * indexof(['naive','scm','cm','em'], datum.key)", "as": "ly"}, {"calculate": "'CD4|' + datum.key", "as": "ck"}],
    "mark": {"type": "point", "shape": "square", "filled": true, "size": 115, "opacity": 1, "stroke": "#8a8a8a", "strokeWidth": 0.4},
    "encoding": {"x": {"datum": 0.53, "type": "quantitative", "axis": null}, "y": {"field": "ly", "type": "quantitative", "axis": null}, "color": {"field": "ck", "type": "nominal", "legend": null}}},
   {"data": {"name": "legT"},
    "transform": [{"calculate": "5.397 + 0.347 * indexof(['naive','scm','cm','em'], datum.key)", "as": "ly"}, {"calculate": "'CD8|' + datum.key", "as": "ck"}],
    "mark": {"type": "point", "shape": "square", "filled": true, "size": 115, "opacity": 1, "stroke": "#8a8a8a", "strokeWidth": 0.4},
    "encoding": {"x": {"datum": 0.774, "type": "quantitative", "axis": null}, "y": {"field": "ly", "type": "quantitative", "axis": null}, "color": {"field": "ck", "type": "nominal", "legend": null}}},
   {"data": {"name": "legT"},
    "transform": [{"calculate": "5.397 + 0.347 * indexof(['naive','scm','cm','em'], datum.key)", "as": "ly"}],
    "mark": {"type": "text", "align": "left", "fontSize": 10},
    "encoding": {"x": {"datum": 0.982, "type": "quantitative", "axis": null}, "y": {"field": "ly", "type": "quantitative", "axis": null}, "text": {"field": "lab"}}},
   {"data": {"name": "legD"},
    "transform": [{"calculate": "5.397 + 0.347 * indexof(['cdc1','cdc2','modc'], datum.key)", "as": "ly"}, {"calculate": "'DC|' + datum.key", "as": "ck"}],
    "mark": {"type": "point", "shape": "square", "filled": true, "size": 115, "opacity": 1, "stroke": "#8a8a8a", "strokeWidth": 0.4},
    "encoding": {"x": {"datum": 4.21, "type": "quantitative", "axis": null}, "y": {"field": "ly", "type": "quantitative", "axis": null}, "color": {"field": "ck", "type": "nominal", "legend": null}}},
   {"data": {"name": "legD"},
    "transform": [{"calculate": "5.397 + 0.347 * indexof(['cdc1','cdc2','modc'], datum.key)", "as": "ly"}],
    "mark": {"type": "text", "align": "left", "fontSize": 10},
    "encoding": {"x": {"datum": 4.418, "type": "quantitative", "axis": null}, "y": {"field": "ly", "type": "quantitative", "axis": null}, "text": {"field": "lab"}}}
  ]},
 {"hconcat": [
   {"width": 10, "height": 51, "data": {"values": [{}]}, "layer": [
     {"mark": {"type": "rule", "color": "#444444", "strokeWidth": 1}, "encoding": {"y": {"datum": 0.425, "type": "quantitative", "scale": {"domain": [0, 1]}, "axis": null}}},
     {"mark": {"type": "text", "text": "d", "fontSize": 16, "fontWeight": "bold", "font": "Liberation Sans", "color": "#111111"}, "encoding": {"y": {"datum": 0.647, "type": "quantitative", "axis": null}}}
   ]},
   {"width": 118, "height": 51, "data": {"values": [{}]}, "layer": [
     {"mark": {"type": "rule", "color": "#444444", "strokeWidth": 1}, "encoding": {"y": {"datum": 0.425, "type": "quantitative", "scale": {"domain": [0, 1]}, "axis": null}}},
     {"mark": {"type": "text", "text": "CRTAM⁺CD4⁺ T cells", "fontSize": 10.5}, "encoding": {"y": {"datum": 0.163, "type": "quantitative", "axis": null}}},
     {"mark": {"type": "rule", "color": "#444444", "strokeWidth": 1}, "encoding": {"y": {"datum": 0.02, "type": "quantitative", "axis": null}}}
   ]},
   {"width": 17, "height": 51, "data": {"values": [{}]}, "layer": [
     {"mark": {"type": "rule", "color": "#444444", "strokeWidth": 1}, "encoding": {"y": {"datum": 0.425, "type": "quantitative", "scale": {"domain": [0, 1]}, "axis": null}}},
     {"mark": {"type": "text", "text": "Day 28", "fontSize": 11}, "encoding": {"y": {"datum": 0.608, "type": "quantitative", "axis": null}}}
   ]},
   {"width": 123, "height": 51, "data": {"values": [{}]}, "layer": [
     {"mark": {"type": "rule", "color": "#444444", "strokeWidth": 1}, "encoding": {"y": {"datum": 0.425, "type": "quantitative", "scale": {"domain": [0, 1]}, "axis": null}}},
     {"mark": {"type": "text", "text": "GMZB⁺CD8⁺ T cells", "fontSize": 10.5}, "encoding": {"y": {"datum": 0.163, "type": "quantitative", "axis": null}}},
     {"mark": {"type": "rule", "color": "#444444", "strokeWidth": 1}, "encoding": {"y": {"datum": 0.02, "type": "quantitative", "axis": null}}}
   ]},
   {"width": 34, "height": 51, "data": {"values": [{}]}, "mark": {"type": "point", "opacity": 0}},
   {"width": 5, "height": 51, "data": {"values": [{}]}, "layer": [
     {"mark": {"type": "rule", "color": "#444444", "strokeWidth": 1}, "encoding": {"y": {"datum": 0.425, "type": "quantitative", "scale": {"domain": [0, 1]}, "axis": null}}},
     {"mark": {"type": "text", "text": "e", "fontSize": 16, "fontWeight": "bold", "font": "Liberation Sans", "color": "#111111"}, "encoding": {"y": {"datum": 0.647, "type": "quantitative", "axis": null}}}
   ]},
   {"width": 117, "height": 51, "data": {"values": [{}]}, "layer": [
     {"mark": {"type": "rule", "color": "#444444", "strokeWidth": 1}, "encoding": {"y": {"datum": 0.425, "type": "quantitative", "scale": {"domain": [0, 1]}, "axis": null}}},
     {"mark": {"type": "text", "text": "CRTAM⁺CD4⁺ T cells", "fontSize": 10.5}, "encoding": {"y": {"datum": 0.163, "type": "quantitative", "axis": null}}},
     {"mark": {"type": "rule", "color": "#444444", "strokeWidth": 1}, "encoding": {"y": {"datum": 0.02, "type": "quantitative", "axis": null}}}
   ]},
   {"width": 17, "height": 51, "data": {"values": [{}]}, "layer": [
     {"mark": {"type": "rule", "color": "#444444", "strokeWidth": 1}, "encoding": {"y": {"datum": 0.425, "type": "quantitative", "scale": {"domain": [0, 1]}, "axis": null}}},
     {"mark": {"type": "text", "text": "Day 42", "fontSize": 11}, "encoding": {"y": {"datum": 0.608, "type": "quantitative", "axis": null}}}
   ]},
   {"width": 124, "height": 51, "data": {"values": [{}]}, "layer": [
     {"mark": {"type": "rule", "color": "#444444", "strokeWidth": 1}, "encoding": {"y": {"datum": 0.425, "type": "quantitative", "scale": {"domain": [0, 1]}, "axis": null}}},
     {"mark": {"type": "text", "text": "GMZB⁺CD8⁺ T cells", "fontSize": 10.5}, "encoding": {"y": {"datum": 0.163, "type": "quantitative", "axis": null}}},
     {"mark": {"type": "rule", "color": "#444444", "strokeWidth": 1}, "encoding": {"y": {"datum": 0.02, "type": "quantitative", "axis": null}}}
   ]}
  ], "spacing": 0, "bounds": "flush"},
 {"hconcat": [
   {"width": 43, "height": 104, "data": {"values": [{}]}, "mark": {"type": "point", "opacity": 0}},
   {"width": 85, "height": 104,
    "data": {"name": "bars"}, "transform": [{"filter": "datum.panel == 'd1'"}],
    "encoding": {"x": {"field": "group", "type": "nominal", "sort": ["Control", "LF", "FTY", "L+F"], "scale": {"domain": ["Control", "LF", "FTY", "L+F"], "paddingInner": 0.3, "paddingOuter": 0.45}, "axis": {"title": null, "labelAngle": -90, "ticks": false, "labelPadding": 4, "labelFontSize": 10}}},
    "layer": [
     {"mark": {"type": "bar", "stroke": "#222222", "strokeWidth": 0.6},
      "encoding": {"y": {"field": "mean", "type": "quantitative", "scale": {"domain": [0, 4], "nice": false}, "axis": {"title": "No. cells (×10² per 10⁶ cells)", "values": [0, 1, 2, 3, 4], "labelExpr": "datum.value == 0 ? '0' : format(datum.value, '.1f')", "tickSize": 4, "labelPadding": 3, "titlePadding": 6, "titleFontSize": 9.5}},
       "color": {"field": "group", "type": "nominal", "scale": {"domain": ["Control", "LF", "FTY", "L+F"], "range": ["#1a1a1a", "#e31e3a", "#b3b3b3", "#7d4b92"]}, "legend": null}}},
     {"mark": {"type": "rule", "color": "#222222", "strokeWidth": 0.8}, "encoding": {"y": {"field": "mean", "type": "quantitative"}, "y2": {"field": "hi"}}},
     {"mark": {"type": "tick", "color": "#222222", "size": 6, "thickness": 0.8}, "encoding": {"y": {"field": "hi", "type": "quantitative"}}},
     {"data": {"name": "pts"}, "transform": [{"filter": "datum.panel == 'd1'"}],
      "mark": {"type": "point", "shape": "circle", "filled": true, "fill": "#ffffff", "stroke": "#777777", "strokeWidth": 0.7, "size": 13, "opacity": 1},
      "encoding": {"y": {"field": "val", "type": "quantitative"}, "xOffset": {"field": "rep", "type": "nominal", "scale": {"paddingOuter": 0.2}}}},
     {"data": {"values": [{}]}, "mark": {"type": "rule", "color": "#333333", "strokeWidth": 0.8},
      "encoding": {"x": {"datum": "Control", "type": "nominal", "bandPosition": 0.5}, "x2": {"datum": "LF"}, "y": {"datum": 4.58, "type": "quantitative"}}},
     {"data": {"values": [{}]}, "mark": {"type": "text", "text": "P", "align": "left", "dx": -5, "fontSize": 10.5, "fontStyle": "italic"},
      "encoding": {"x": {"datum": "Control", "type": "nominal", "bandPosition": 0.5}, "y": {"datum": 4.85, "type": "quantitative"}}},
     {"data": {"values": [{}]}, "mark": {"type": "text", "text": "= 0.006", "align": "left", "dx": 4.5, "fontSize": 10.5},
      "encoding": {"x": {"datum": "Control", "type": "nominal", "bandPosition": 0.5}, "y": {"datum": 4.85, "type": "quantitative"}}}
    ]},
   {"width": 52, "height": 104, "data": {"values": [{}]}, "mark": {"type": "point", "opacity": 0}},
   {"width": 88, "height": 104,
    "data": {"name": "bars"}, "transform": [{"filter": "datum.panel == 'd2'"}],
    "encoding": {"x": {"field": "group", "type": "nominal", "sort": ["Control", "LF", "FTY", "L+F"], "scale": {"domain": ["Control", "LF", "FTY", "L+F"], "paddingInner": 0.3, "paddingOuter": 0.45}, "axis": {"title": null, "labelAngle": -90, "ticks": false, "labelPadding": 4, "labelFontSize": 10}}},
    "layer": [
     {"mark": {"type": "bar", "stroke": "#222222", "strokeWidth": 0.6},
      "encoding": {"y": {"field": "mean", "type": "quantitative", "scale": {"domain": [0, 4], "nice": false}, "axis": {"title": "No. cells (×10² per 10⁶ cells)", "values": [0, 1, 2, 3, 4], "labelExpr": "datum.value == 0 ? '0' : format(datum.value, '.1f')", "tickSize": 4, "labelPadding": 3, "titlePadding": 6, "titleFontSize": 9.5}},
       "color": {"field": "group", "type": "nominal", "scale": {"domain": ["Control", "LF", "FTY", "L+F"], "range": ["#1a1a1a", "#e31e3a", "#b3b3b3", "#7d4b92"]}, "legend": null}}},
     {"mark": {"type": "rule", "color": "#222222", "strokeWidth": 0.8}, "encoding": {"y": {"field": "mean", "type": "quantitative"}, "y2": {"field": "hi"}}},
     {"mark": {"type": "tick", "color": "#222222", "size": 6, "thickness": 0.8}, "encoding": {"y": {"field": "hi", "type": "quantitative"}}},
     {"data": {"name": "pts"}, "transform": [{"filter": "datum.panel == 'd2'"}],
      "mark": {"type": "point", "shape": "circle", "filled": true, "fill": "#ffffff", "stroke": "#777777", "strokeWidth": 0.7, "size": 13, "opacity": 1},
      "encoding": {"y": {"field": "val", "type": "quantitative"}, "xOffset": {"field": "rep", "type": "nominal", "scale": {"paddingOuter": 0.2}}}}
    ]},
   {"width": 66, "height": 104, "data": {"values": [{}]}, "mark": {"type": "point", "opacity": 0}},
   {"width": 90, "height": 104,
    "data": {"name": "bars"}, "transform": [{"filter": "datum.panel == 'e1'"}],
    "encoding": {"x": {"field": "group", "type": "nominal", "sort": ["Control", "LF", "FTY", "L+F"], "scale": {"domain": ["Control", "LF", "FTY", "L+F"], "paddingInner": 0.3, "paddingOuter": 0.45}, "axis": {"title": null, "labelAngle": -90, "ticks": false, "labelPadding": 4, "labelFontSize": 10}}},
    "layer": [
     {"mark": {"type": "bar", "stroke": "#222222", "strokeWidth": 0.6},
      "encoding": {"y": {"field": "mean", "type": "quantitative", "scale": {"domain": [0, 2], "nice": false}, "axis": {"title": "No. cells (×10² per 10⁶ cells)", "values": [0, 0.5, 1, 1.5, 2], "labelExpr": "datum.value == 0 ? '0' : format(datum.value, '.1f')", "tickSize": 4, "labelPadding": 3, "titlePadding": 6, "titleFontSize": 9.5}},
       "color": {"field": "group", "type": "nominal", "scale": {"domain": ["Control", "LF", "FTY", "L+F"], "range": ["#1a1a1a", "#e31e3a", "#b3b3b3", "#7d4b92"]}, "legend": null}}},
     {"mark": {"type": "rule", "color": "#222222", "strokeWidth": 0.8}, "encoding": {"y": {"field": "mean", "type": "quantitative"}, "y2": {"field": "hi"}}},
     {"mark": {"type": "tick", "color": "#222222", "size": 6, "thickness": 0.8}, "encoding": {"y": {"field": "hi", "type": "quantitative"}}},
     {"data": {"name": "pts"}, "transform": [{"filter": "datum.panel == 'e1'"}],
      "mark": {"type": "point", "shape": "circle", "filled": true, "fill": "#ffffff", "stroke": "#777777", "strokeWidth": 0.7, "size": 13, "opacity": 1},
      "encoding": {"y": {"field": "val", "type": "quantitative"}, "xOffset": {"field": "rep", "type": "nominal", "scale": {"paddingOuter": 0.2}}}},
     {"data": {"values": [{}]}, "mark": {"type": "rule", "color": "#333333", "strokeWidth": 0.8},
      "encoding": {"x": {"datum": "Control", "type": "nominal", "bandPosition": 0.5}, "x2": {"datum": "LF"}, "y": {"datum": 1.365, "type": "quantitative"}}},
     {"data": {"values": [{}]}, "mark": {"type": "text", "text": "P", "align": "left", "dx": -17, "fontSize": 10, "fontStyle": "italic"},
      "encoding": {"x": {"datum": "Control", "type": "nominal", "bandPosition": 0.5}, "y": {"datum": 1.48, "type": "quantitative"}}},
     {"data": {"values": [{}]}, "mark": {"type": "text", "text": "= 0.2524", "align": "left", "dx": -8, "fontSize": 10},
      "encoding": {"x": {"datum": "Control", "type": "nominal", "bandPosition": 0.5}, "y": {"datum": 1.48, "type": "quantitative"}}},
     {"data": {"values": [{}]}, "mark": {"type": "text", "text": "NS", "align": "left", "dx": 3, "fontSize": 10},
      "encoding": {"x": {"datum": "Control", "type": "nominal", "bandPosition": 0.5}, "y": {"datum": 1.72, "type": "quantitative"}}}
    ]},
   {"width": 53, "height": 104, "data": {"values": [{}]}, "mark": {"type": "point", "opacity": 0}},
   {"width": 88, "height": 104,
    "data": {"name": "bars"}, "transform": [{"filter": "datum.panel == 'e2'"}],
    "encoding": {"x": {"field": "group", "type": "nominal", "sort": ["Control", "LF", "FTY", "L+F"], "scale": {"domain": ["Control", "LF", "FTY", "L+F"], "paddingInner": 0.3, "paddingOuter": 0.45}, "axis": {"title": null, "labelAngle": -90, "ticks": false, "labelPadding": 4, "labelFontSize": 10}}},
    "layer": [
     {"mark": {"type": "bar", "stroke": "#222222", "strokeWidth": 0.6},
      "encoding": {"y": {"field": "mean", "type": "quantitative", "scale": {"domain": [0, 3], "nice": false}, "axis": {"title": "No. cells (×10² per 10⁶ cells)", "values": [0, 1.5, 3], "labelExpr": "datum.value == 0 ? '0' : format(datum.value, '.1f')", "tickSize": 4, "labelPadding": 3, "titlePadding": 6, "titleFontSize": 9.5}},
       "color": {"field": "group", "type": "nominal", "scale": {"domain": ["Control", "LF", "FTY", "L+F"], "range": ["#1a1a1a", "#e31e3a", "#b3b3b3", "#7d4b92"]}, "legend": null}}},
     {"mark": {"type": "rule", "color": "#222222", "strokeWidth": 0.8}, "encoding": {"y": {"field": "mean", "type": "quantitative"}, "y2": {"field": "hi"}}},
     {"mark": {"type": "tick", "color": "#222222", "size": 6, "thickness": 0.8}, "encoding": {"y": {"field": "hi", "type": "quantitative"}}},
     {"data": {"name": "pts"}, "transform": [{"filter": "datum.panel == 'e2'"}],
      "mark": {"type": "point", "shape": "circle", "filled": true, "fill": "#ffffff", "stroke": "#777777", "strokeWidth": 0.7, "size": 13, "opacity": 1},
      "encoding": {"y": {"field": "val", "type": "quantitative"}, "xOffset": {"field": "rep", "type": "nominal", "scale": {"paddingOuter": 0.2}}}}
    ]}
  ], "spacing": 0, "bounds": "flush"}
]
}
